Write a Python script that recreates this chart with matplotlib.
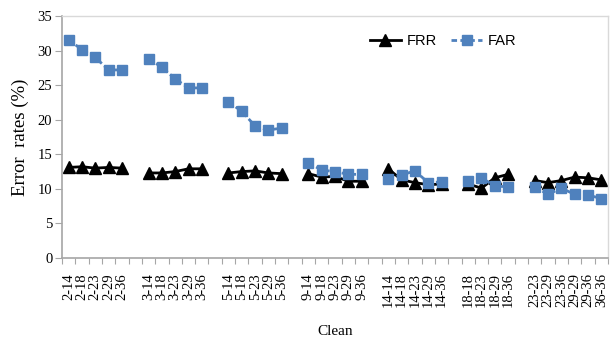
import matplotlib
matplotlib.use("Agg")
import matplotlib.pyplot as plt
import numpy as np

categories = ["2-14", "2-18", "2-23", "2-29", "2-36", "",
              "3-14", "3-18", "3-23", "3-29", "3-36", "",
              "5-14", "5-18", "5-23", "5-29", "5-36", "",
              "9-14", "9-18", "9-23", "9-29", "9-36", "",
              "14-14", "14-18", "14-23", "14-29", "14-36", "",
              "18-18", "18-23", "18-29", "18-36", "",
              "23-23", "23-29", "23-36", "29-29", "29-36", "36-36"]

nan = np.nan
frr = [13.1, 13.2, 13.0, 13.1, 13.0, nan,
       12.3, 12.3, 12.5, 12.9, 12.9, nan,
       12.3, 12.5, 12.6, 12.3, 12.2, nan,
       12.2, 11.7, 11.8, 11.1, 11.1, nan,
       12.9, 11.3, 10.9, 10.6, 10.7, nan,
       10.7, 10.1, 11.6, 12.1, nan,
       11.2, 10.9, 11.2, 11.7, 11.6, 11.3]
far = [31.6, 30.1, 29.0, 27.2, 27.2, nan,
       28.8, 27.6, 25.9, 24.6, 24.6, nan,
       22.6, 21.2, 19.1, 18.5, 18.8, nan,
       13.8, 12.7, 12.5, 12.1, 12.1, nan,
       11.4, 12.0, 12.6, 10.9, 11.0, nan,
       11.2, 11.6, 10.4, 10.3, nan,
       10.3, 9.2, 10.1, 9.2, 9.1, 8.6]

serif = ["Liberation Serif", "DejaVu Serif"]
fig = plt.figure(figsize=(6.10, 3.41), dpi=100)
ax = fig.add_axes([62/610, 1-258/341, (608-62)/610, (258-16)/341])

x = np.arange(len(categories))
blue = "#4F81BD"
ax.plot(x, frr, color="black", lw=2, marker="^", ms=8, label="FRR")
ax.plot(x, far, color=blue, lw=2, ls=(0, (2, 1.2)), marker="s", ms=7,
        markeredgecolor=blue, label="FAR")

ax.set_xlim(-0.5, len(categories) - 0.5)
ax.set_ylim(0, 35)
ax.set_yticks(np.arange(0, 36, 5))
ax.set_yticklabels([str(v) for v in range(0, 36, 5)], fontfamily=serif, fontsize=10.5)

ax.set_xticks(np.arange(-0.5, len(categories), 1.0))
ax.set_xticklabels([])
ax.set_xticks(x, minor=True)
ax.set_xticklabels(categories, minor=True, rotation=90, fontfamily=serif, fontsize=10.5)
ax.tick_params(axis="x", which="major", length=4, color="#A6A6A6", direction="out")
ax.tick_params(axis="x", which="minor", length=0, pad=11)
ax.tick_params(axis="y", length=5, color="#A6A6A6", direction="out", pad=2)

for s in ["left", "bottom"]:
    ax.spines[s].set_color("#A6A6A6")
    ax.spines[s].set_linewidth(1.2)
for s in ["top", "right"]:
    ax.spines[s].set_color("#D9D9D9")
    ax.spines[s].set_linewidth(1.0)

ax.set_ylabel("Error  rates (%)", fontfamily=serif, fontsize=13.5, labelpad=6)
ax.set_xlabel("Clean", fontfamily=serif, fontsize=11, labelpad=13)

leg = ax.legend(loc="upper left", bbox_to_anchor=(0.54, 0.98), ncol=2, frameon=False,
                prop={"family": ["Liberation Sans"], "size": 10.5},
                handlelength=2.1, columnspacing=1.0, handletextpad=0.4)

fig.savefig("out.png", dpi=100)
